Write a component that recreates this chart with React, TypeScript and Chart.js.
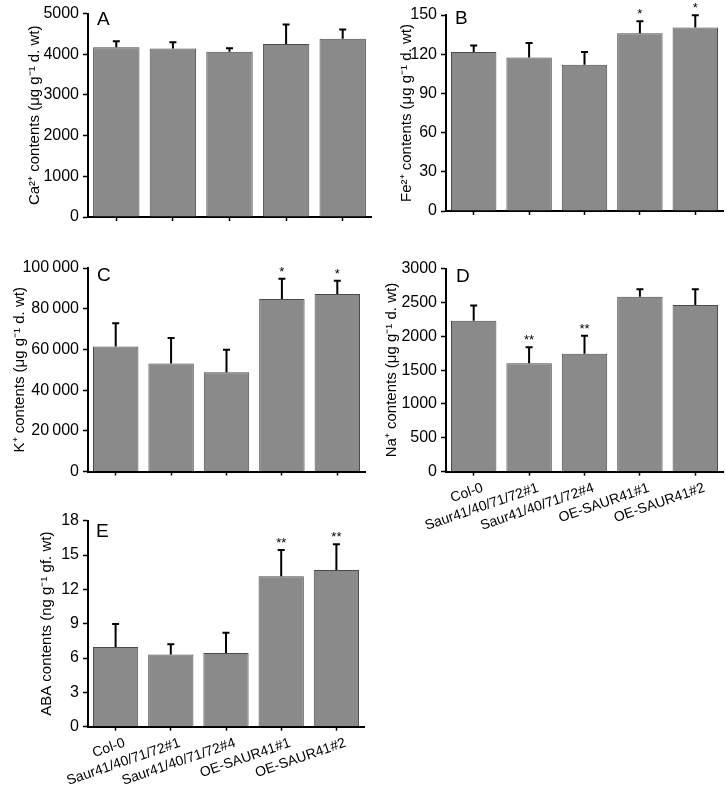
import React, { useEffect, useRef } from 'react';
import { Chart, registerables } from 'chart.js';

Chart.register(...registerables);

const categories = ['Col-0', 'Saur41/40/71/72#1', 'Saur41/40/71/72#4', 'OE-SAUR41#1', 'OE-SAUR41#2'];

// Panel A: Ca2+
const caValues = [4170, 4140, 4060, 4255, 4380];
const caErrors = [150, 155, 90, 475, 230];
const caSig = ['', '', '', '', ''];
const caTicks = [0, 1000, 2000, 3000, 4000, 5000];

// Panel B: Fe2+
const feValues = [121.7, 117.5, 112, 136, 140.5];
const feErrors = [5, 11, 9.7, 9.2, 9.3];
const feSig = ['', '', '', '*', '*'];
const feTicks = [0, 30, 60, 90, 120, 150];

// Panel C: K+
const kValues = [61400, 53050, 48800, 84750, 87200];
const kErrors = [11500, 12500, 11000, 10000, 6550];
const kSig = ['', '', '', '*', '*'];
const kTicks = [0, 20000, 40000, 60000, 80000, 100000];

// Panel D: Na+
const naValues = [2230, 1600, 1742, 2584, 2461];
const naErrors = [222, 237, 266, 109, 232];
const naSig = ['', '**', '**', '', ''];
const naTicks = [0, 500, 1000, 1500, 2000, 2500, 3000];

// Panel E: ABA
const abaValues = [6.97, 6.3, 6.44, 13.15, 13.7];
const abaErrors = [2.0, 0.9, 1.78, 2.3, 2.24];
const abaSig = ['', '', '', '**', '**'];
const abaTicks = [0, 3, 6, 9, 12, 15, 18];

const FONT = '"Liberation Sans", Arial, Helvetica, sans-serif';

const errorBarPlugin = {
  id: 'errorBars',
  afterDatasetsDraw(chart: any, _args: any, opts: any) {
    const { ctx, chartArea } = chart;
    const meta = chart.getDatasetMeta(0);
    const yScale = chart.scales.y;
    const values = chart.data.datasets[0].data as number[];
    ctx.save();
    ctx.strokeStyle = '#000';
    ctx.fillStyle = '#000';
    ctx.lineWidth = 2;
    meta.data.forEach((bar: any, i: number) => {
      const x = bar.x;
      const yBase = yScale.getPixelForValue(values[i]);
      const yTop = yScale.getPixelForValue(values[i] + opts.errors[i]);
      ctx.beginPath();
      ctx.moveTo(x, yBase);
      ctx.lineTo(x, yTop);
      ctx.moveTo(x - 3.5, yTop);
      ctx.lineTo(x + 3.5, yTop);
      ctx.stroke();
      if (opts.sig[i]) {
        ctx.font = `13px ${FONT}`;
        ctx.textAlign = 'center';
        ctx.textBaseline = 'alphabetic';
        ctx.fillText(opts.sig[i], x, yTop - 3);
      }
    });
    ctx.font = `19px ${FONT}`;
    ctx.textAlign = 'left';
    ctx.textBaseline = 'alphabetic';
    ctx.fillText(opts.letter, chartArea.left + opts.letterDx, chartArea.top + opts.letterDy);
    ctx.restore();
  },
};

type PanelProps = {
  letter: string;
  values: number[];
  errors: number[];
  sig: string[];
  yTicks: number[];
  yTitle: string;
  showX: boolean;
  box: { x: number; y: number; w: number; h: number };
  area: { l: number; r: number; t: number; b: number };
  titleX: number;
  letterDx: number;
  letterDy: number;
};

function fmt(v: number): string {
  const s = String(v);
  if (v >= 10000) return s.replace(/\B(?=(\d{3})+(?!\d))/g, '\u2009');
  return s;
}

function Panel(p: PanelProps) {
  const ref = useRef<HTMLCanvasElement | null>(null);
  useEffect(() => {
    if (!ref.current) return;
    const yW = p.area.l - p.box.x;
    const xH = p.box.y + p.box.h - p.area.b;
    const pt = p.area.t - p.box.y;
    const pr = p.box.x + p.box.w - p.area.r;
    const titleSize = 15;
    const titlePad = p.titleX - p.box.x - (titleSize * 1.2) / 2;
    const chart = new Chart(ref.current, {
      type: 'bar',
      data: {
        labels: categories,
        datasets: [
          {
            data: p.values,
            backgroundColor: '#8a8a8a',
            borderColor: '#4a4a4a',
            borderWidth: 1,
            categoryPercentage: 0.82,
            barPercentage: 1,
          },
        ],
      },
      options: {
        responsive: false,
        animation: false,
        devicePixelRatio: 1,
        layout: { padding: { top: pt, right: pr, left: 0, bottom: 0 } },
        plugins: {
          legend: { display: false },
          tooltip: { enabled: false },
          errorBars: { errors: p.errors, sig: p.sig, letter: p.letter, letterDx: p.letterDx, letterDy: p.letterDy },
        } as any,
        scales: {
          x: {
            grid: {
              display: true,
              drawOnChartArea: false,
              drawTicks: true,
              tickLength: 4,
              tickWidth: 1.5,
              tickColor: '#000',
              color: '#000',
              offset: false,
            },
            border: { display: true, color: '#000', width: 2 },
            ticks: {
              display: p.showX,
              minRotation: 19,
              maxRotation: 19,
              autoSkip: false,
              color: '#000',
              font: { family: FONT, size: 14 },
              padding: 4,
              labelOffset: 9,
            },
            afterFit: (s: any) => {
              s.height = xH;
            },
          },
          y: {
            min: 0,
            max: p.yTicks[p.yTicks.length - 1],
            afterBuildTicks: (s: any) => {
              s.ticks = p.yTicks.map((v) => ({ value: v }));
            },
            grid: {
              display: true,
              drawOnChartArea: false,
              drawTicks: true,
              tickLength: 5,
              tickWidth: 1.5,
              tickColor: '#000',
              color: '#000',
            },
            border: { display: true, color: '#000', width: 2 },
            ticks: {
              color: '#000',
              font: { family: FONT, size: 16 },
              padding: 4,
              callback: (v: any) => fmt(Number(v)),
            },
            title: {
              display: true,
              text: p.yTitle,
              color: '#000',
              font: { family: FONT, size: titleSize },
              padding: { top: titlePad, bottom: 0 },
            },
            afterFit: (s: any) => {
              s.width = yW;
            },
          },
        },
      } as any,
      plugins: [errorBarPlugin],
    });
    return () => chart.destroy();
  }, []);
  return (
    <canvas
      ref={ref}
      width={p.box.w}
      height={p.box.h}
      style={{ position: 'absolute', left: p.box.x, top: p.box.y, width: p.box.w, height: p.box.h }}
    />
  );
}

export default function App() {
  return (
    <div style={{ position: 'fixed', left: 0, top: 0, width: 727, height: 789, background: '#fff', overflow: 'hidden' }}>
      <Panel
        letter="A"
        values={caValues}
        errors={caErrors}
        sig={caSig}
        yTicks={caTicks}
        yTitle="Ca²⁺ contents (μg g⁻¹ d. wt)"
        showX={false}
        box={{ x: 0, y: 0, w: 380, h: 240 }}
        area={{ l: 88, r: 371, t: 13, b: 217 }}
        titleX={35}
        letterDx={9}
        letterDy={11}
      />
      <Panel
        letter="B"
        values={feValues}
        errors={feErrors}
        sig={feSig}
        yTicks={feTicks}
        yTitle="Fe²⁺ contents (μg g⁻¹ d. wt)"
        showX={false}
        box={{ x: 365, y: 0, w: 362, h: 240 }}
        area={{ l: 446, r: 723, t: 15, b: 211 }}
        titleX={406.7}
        letterDx={9}
        letterDy={9}
      />
      <Panel
        letter="C"
        values={kValues}
        errors={kErrors}
        sig={kSig}
        yTicks={kTicks}
        yTitle="K⁺ contents (μg g⁻¹ d. wt)"
        showX={false}
        box={{ x: 0, y: 250, w: 380, h: 240 }}
        area={{ l: 88, r: 365, t: 268, b: 471.5 }}
        titleX={20}
        letterDx={9}
        letterDy={13}
      />
      <Panel
        letter="D"
        values={naValues}
        errors={naErrors}
        sig={naSig}
        yTicks={naTicks}
        yTitle="Na⁺ contents (μg g⁻¹ d. wt)"
        showX={true}
        box={{ x: 365, y: 250, w: 362, h: 290 }}
        area={{ l: 446, r: 723, t: 268.5, b: 471.7 }}
        titleX={392}
        letterDx={10}
        letterDy={13}
      />
      <Panel
        letter="E"
        values={abaValues}
        errors={abaErrors}
        sig={abaSig}
        yTicks={abaTicks}
        yTitle="ABA contents (ng g⁻¹ gf. wt)"
        showX={true}
        box={{ x: 0, y: 500, w: 380, h: 289 }}
        area={{ l: 88, r: 364, t: 520.7, b: 726.7 }}
        titleX={47}
        letterDx={8}
        letterDy={16}
      />
    </div>
  );
}
